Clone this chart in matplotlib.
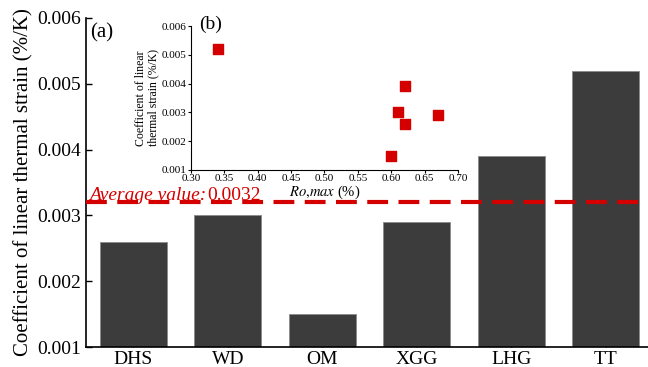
import numpy as np
import matplotlib.pyplot as plt

plt.rcParams['font.family'] = ['Liberation Serif', 'DejaVu Serif']
plt.rcParams['mathtext.fontset'] = 'stix'

sites = ['DHS', 'WD', 'OM', 'XGG', 'LHG', 'TT']
strain = [0.0026, 0.0030, 0.0015, 0.0029, 0.0039, 0.0052]
avg_value = 0.0032

ro_max = [0.34, 0.62, 0.61, 0.67, 0.62, 0.60]
ro_strain = [0.0052, 0.0039, 0.0030, 0.0029, 0.0026, 0.0015]

fig = plt.figure(figsize=(6.48, 3.67), dpi=100)
ax = fig.add_axes([86 / 648, 1 - 347 / 367, 567 / 648, 329 / 367])

x = np.arange(len(sites))
ax.bar(x, strain, width=0.71, color='#3c3c3c', edgecolor='#8a8a8a', linewidth=0.6, zorder=2)
ax.axhline(avg_value, color='#d40000', lw=3, dashes=(5, 2.5), zorder=3)
t1 = ax.text(0.005, avg_value + 0.00003, 'Average value:', color='#d40000', fontsize=14,
             style='italic', transform=ax.get_yaxis_transform(), va='baseline')
ax.annotate('0.0032', xy=(1, 0), xycoords=t1, xytext=(1, 0), textcoords='offset points',
            color='#d40000', fontsize=14, va='bottom', ha='left')

ax.set_xlim(-0.5, 5.5)
ax.set_ylim(0.001, 0.006)
ax.set_yticks([0.001, 0.002, 0.003, 0.004, 0.005, 0.006])
ax.set_yticklabels(['0.001', '0.002', '0.003', '0.004', '0.005', '0.006'])
ax.set_xticks(x)
ax.set_xticklabels(sites)
ax.tick_params(labelsize=14, direction='in', length=4, width=1)
ax.tick_params(axis='x', pad=3)
ax.set_ylabel('Coefficient of linear thermal strain (%/K)', fontsize=15, labelpad=3)
ax.spines['top'].set_visible(False)
ax.spines['right'].set_visible(False)
ax.spines['left'].set_linewidth(1.2)
ax.spines['bottom'].set_linewidth(1.2)
ax.text(0.008, 0.985, '(a)', transform=ax.transAxes, fontsize=15, va='top')

# inset: strain against vitrinite reflectance
ins = fig.add_axes([191 / 648, 1 - 170 / 367, 267 / 648, 144 / 367])
ins.scatter(ro_max, ro_strain, marker='s', s=42, color='#d40000', zorder=3)
ins.set_xlim(0.30, 0.70)
ins.set_ylim(0.001, 0.006)
ins.set_xticks(np.arange(0.30, 0.71, 0.05))
ins.set_xticklabels(['0.30', '0.35', '0.40', '0.45', '0.50', '0.55', '0.60', '0.65', '0.70'])
ins.set_yticks([0.001, 0.002, 0.003, 0.004, 0.005, 0.006])
ins.set_yticklabels(['0.001', '0.002', '0.003', '0.004', '0.005', '0.006'])
ins.tick_params(labelsize=8, direction='out', length=2, width=0.8, pad=1)
ins.set_xlabel('$\\mathit{Ro{,}max}$ (%)', fontsize=10.5, labelpad=0)
ins.set_ylabel('Coefficient of linear\nthermal strain (%/K)', fontsize=8.5, labelpad=2,
               linespacing=1.0)
ins.spines['top'].set_visible(False)
ins.spines['right'].set_visible(False)
ins.patch.set_alpha(0)
ins.text(0.03, 1.07, '(b)', transform=ins.transAxes, fontsize=14, va='top')

fig.savefig('out.png', dpi=100)
